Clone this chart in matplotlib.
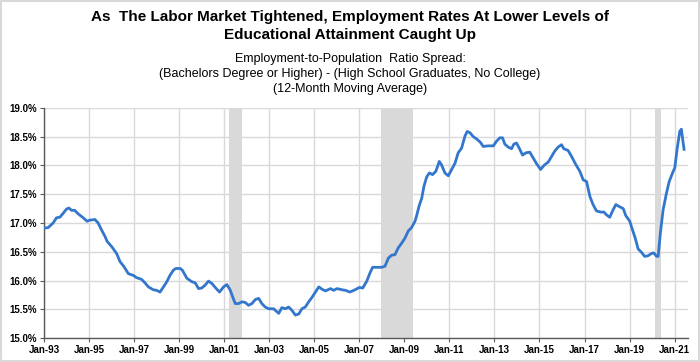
import matplotlib
matplotlib.use("Agg")
import matplotlib.pyplot as plt
from matplotlib.patches import Rectangle
from matplotlib.ticker import FuncFormatter

plt.rcParams['font.family'] = ['Liberation Sans', 'DejaVu Sans']

# 12-month moving average spread (decimal years, %)
years_93_06 = [1993.0, 1993.18, 1993.4, 1993.55, 1993.7, 1993.85, 1993.99, 1994.1, 1994.22, 1994.36,
               1994.51, 1994.74, 1994.91, 1995.03, 1995.26, 1995.4, 1995.55, 1995.7, 1995.8, 1996.0,
               1996.22, 1996.37, 1996.55, 1996.74, 1996.96, 1997.11, 1997.33, 1997.48, 1997.63, 1997.85,
               1998.0, 1998.15, 1998.3, 1998.45, 1998.59, 1998.74, 1998.85, 1999.04, 1999.14, 1999.34,
               1999.56, 1999.71, 1999.86, 2000.0, 2000.15, 2000.3, 2000.45, 2000.6, 2000.79, 2000.97,
               2001.12, 2001.27, 2001.38, 2001.49, 2001.64, 2001.78, 2001.93, 2002.08, 2002.23, 2002.38,
               2002.53, 2002.67, 2002.82, 2002.97, 2003.19, 2003.42, 2003.56, 2003.71, 2003.86, 2004.01,
               2004.16, 2004.31, 2004.45, 2004.6, 2004.75, 2004.9, 2005.05, 2005.2, 2005.34, 2005.49,
               2005.72, 2005.86, 2006.01, 2006.23, 2006.38, 2006.58]
spread_93_06 = [16.91, 16.92, 17.00, 17.09, 17.10, 17.17, 17.24, 17.26, 17.22, 17.22,
                17.16, 17.09, 17.03, 17.05, 17.06, 17.00, 16.88, 16.77, 16.68, 16.59,
                16.47, 16.33, 16.24, 16.12, 16.09, 16.05, 16.02, 15.96, 15.89, 15.84,
                15.83, 15.80, 15.89, 15.98, 16.09, 16.18, 16.21, 16.21, 16.18, 16.04,
                15.98, 15.96, 15.86, 15.87, 15.92, 15.99, 15.95, 15.88, 15.80, 15.89,
                15.93, 15.83, 15.71, 15.60, 15.60, 15.63, 15.62, 15.57, 15.60, 15.67,
                15.69, 15.60, 15.54, 15.51, 15.51, 15.43, 15.53, 15.51, 15.54, 15.48,
                15.40, 15.42, 15.51, 15.54, 15.63, 15.71, 15.80, 15.89, 15.85, 15.82,
                15.86, 15.83, 15.86, 15.84, 15.83, 15.80]

years_06_21 = [2006.81, 2007.0, 2007.15, 2007.33, 2007.47, 2007.59, 2007.77, 2007.99, 2008.14, 2008.29,
               2008.43, 2008.58, 2008.73, 2008.88, 2009.03, 2009.17, 2009.32, 2009.47, 2009.54, 2009.65,
               2009.77, 2009.87, 2009.99, 2010.11, 2010.25, 2010.4, 2010.55, 2010.65, 2010.8, 2010.95,
               2011.1, 2011.25, 2011.39, 2011.54, 2011.69, 2011.79, 2011.91, 2012.06, 2012.21, 2012.38,
               2012.5, 2012.72, 2012.95, 2013.09, 2013.24, 2013.36, 2013.46, 2013.61, 2013.76, 2013.86,
               2013.98, 2014.1, 2014.25, 2014.4, 2014.57, 2014.72, 2014.87, 2015.05, 2015.2, 2015.39,
               2015.54, 2015.68, 2015.83, 2015.98, 2016.08, 2016.27, 2016.42, 2016.62, 2016.79, 2016.94,
               2017.09, 2017.24, 2017.38, 2017.53, 2017.71, 2017.86, 2017.98, 2018.12, 2018.27, 2018.39,
               2018.57, 2018.72, 2018.83, 2019.01, 2019.13, 2019.25, 2019.38, 2019.53, 2019.67, 2019.82,
               2019.97, 2020.08, 2020.2, 2020.27, 2020.37, 2020.49, 2020.64, 2020.76, 2020.91, 2021.01,
               2021.11, 2021.23, 2021.3, 2021.42]
spread_06_21 = [15.84, 15.88, 15.87, 15.99, 16.13, 16.23, 16.23, 16.23, 16.25, 16.39,
                16.44, 16.45, 16.57, 16.65, 16.74, 16.86, 16.92, 17.03, 17.12, 17.29,
                17.43, 17.64, 17.80, 17.87, 17.84, 17.90, 18.07, 18.01, 17.87, 17.82,
                17.93, 18.04, 18.22, 18.30, 18.51, 18.59, 18.57, 18.50, 18.46, 18.40,
                18.33, 18.34, 18.34, 18.42, 18.48, 18.48, 18.37, 18.32, 18.29, 18.37,
                18.39, 18.30, 18.18, 18.22, 18.23, 18.13, 18.03, 17.93, 18.00, 18.06,
                18.16, 18.25, 18.32, 18.36, 18.29, 18.26, 18.16, 18.01, 17.90, 17.75,
                17.72, 17.46, 17.32, 17.21, 17.19, 17.19, 17.14, 17.10, 17.23, 17.32,
                17.28, 17.25, 17.13, 17.03, 16.88, 16.74, 16.55, 16.49, 16.42, 16.43,
                16.47, 16.48, 16.42, 16.42, 16.83, 17.23, 17.52, 17.72, 17.87, 17.96,
                18.28, 18.59, 18.63, 18.28]

years = years_93_06 + years_06_21
spread = spread_93_06 + spread_06_21

# recessions (start, end)
rec_start = [2001.23, 2007.96, 2020.12]
rec_end = [2001.81, 2009.40, 2020.39]

tick_years = list(range(1993, 2022, 2))
tick_labels = ['Jan-%02d' % (y % 100) for y in tick_years]

fig = plt.figure(figsize=(7, 3.62), dpi=100)
ax = fig.add_axes([0.063, 0.066, 0.92, 0.636])

for s, e in zip(rec_start, rec_end):
    ax.axvspan(s, e, color='#d9d9d9', lw=0, zorder=1)

ax.plot(years, spread, color='#3377cc', lw=2.0, zorder=3)

ax.set_xlim(1993, 2021.6)
ax.set_ylim(15.0, 19.0)
ax.set_yticks([15.0, 15.5, 16.0, 16.5, 17.0, 17.5, 18.0, 18.5, 19.0])
ax.yaxis.set_major_formatter(FuncFormatter(lambda v, p: '%.1f%%' % v))
ax.set_xticks(tick_years)
ax.set_xticklabels(tick_labels)

ax.grid(True, color='#d9d9d9', lw=1.0, zorder=0)
ax.set_axisbelow(True)
for side in ['top', 'right']:
    ax.spines[side].set_visible(False)
for side in ['left', 'bottom']:
    ax.spines[side].set_color('#595959')
    ax.spines[side].set_linewidth(1.0)
ax.tick_params(axis='both', length=3, width=0.8, color='#595959', labelsize=7, pad=2)
for lab in ax.get_xticklabels() + ax.get_yticklabels():
    lab.set_fontweight('bold')

fig.text(0.5, 0.953, 'As  The Labor Market Tightened, Employment Rates At Lower Levels of',
         ha='center', va='center', fontsize=11, fontweight='bold')
fig.text(0.5, 0.903, 'Educational Attainment Caught Up',
         ha='center', va='center', fontsize=11, fontweight='bold')
fig.text(0.5, 0.838, 'Employment-to-Population  Ratio Spread:', ha='center', va='center', fontsize=9)
fig.text(0.5, 0.795, '(Bachelors Degree or Higher) - (High School Graduates, No College)',
         ha='center', va='center', fontsize=9)
fig.text(0.5, 0.753, '(12-Month Moving Average)', ha='center', va='center', fontsize=9)

fig.patches.append(Rectangle((0.001, 0.002), 0.997, 0.995, transform=fig.transFigure,
                             fill=False, edgecolor='#d9d9d9', lw=1.5))

fig.savefig('out.png', dpi=100)
